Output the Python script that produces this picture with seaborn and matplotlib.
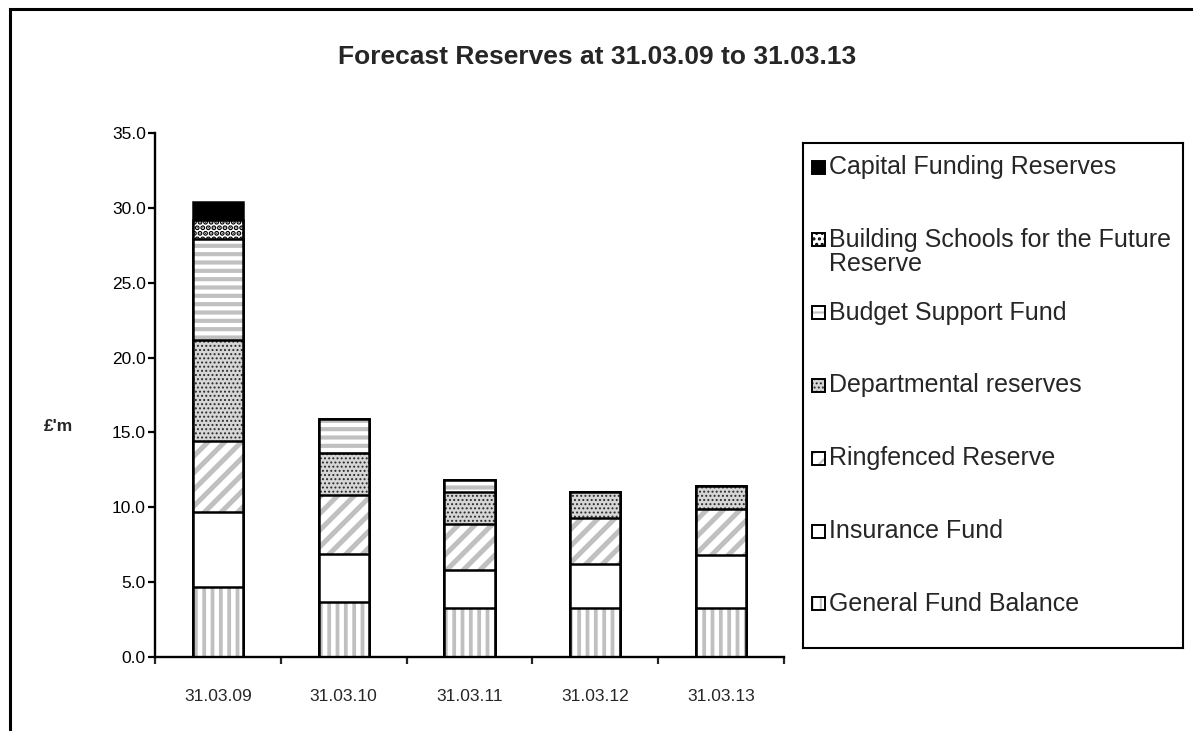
import numpy as np
import pandas as pd
import matplotlib
matplotlib.use("Agg")
import matplotlib.pyplot as plt
from matplotlib.patches import Rectangle
import seaborn as sns

# ---- data (£m) -------------------------------------------------------------
periods = ["31.03.09", "31.03.10", "31.03.11", "31.03.12", "31.03.13"]

general_fund = [4.7, 3.7, 3.3, 3.3, 3.3]
insurance_fund = [5.0, 3.2, 2.5, 2.9, 3.5]
ringfenced = [4.7, 3.9, 3.1, 3.1, 3.1]
departmental = [6.8, 2.8, 2.1, 1.7, 1.5]
budget_support = [6.7, 2.3, 0.8, 0.0, 0.0]
bsf_reserve = [1.3, 0.0, 0.0, 0.0, 0.0]
capital_funding = [1.2, 0.0, 0.0, 0.0, 0.0]

series_names = [
    "General Fund Balance",
    "Insurance Fund",
    "Ringfenced Reserve",
    "Departmental reserves",
    "Budget Support Fund",
    "Building Schools for the Future\nReserve",
    "Capital Funding Reserves",
]
series_values = [general_fund, insurance_fund, ringfenced, departmental,
                 budget_support, bsf_reserve, capital_funding]

y_ticks = [0, 5, 10, 15, 20, 25, 30, 35]

# fill styles, bottom segment first: (face, hatch, hatch colour, hatch width pt)
styles = [
    ("white", "||", "#c0c0c0", 2.7),
    ("white", None, "#c0c0c0", 1.0),
    ("white", "//", "#c0c0c0", 3.6),
    ("#d6d6d6", "....", "#2a2a2a", 0.9),
    ("white", "--", "#c0c0c0", 3.0),
    ("white", "...", "#000000", 2.6),
    ("black", None, "#000000", 1.0),
]

# ---- figure ---------------------------------------------------------------
sns.set_style("white")
plt.rcParams["font.family"] = ["Liberation Sans", "DejaVu Sans"]

W, H = 1193, 731
fig = plt.figure(figsize=(W / 100, H / 100), dpi=100)
fig.patch.set_facecolor("white")

ax = fig.add_axes([155 / W, 1 - 657 / H, 629 / W, 524 / H])

frame = pd.DataFrame({name: vals for name, vals in zip(series_names, series_values)},
                     index=periods)
cumulative = frame.cumsum(axis=1)


def style_patches(patches, face, hatch, hcolor, hlw, outline):
    for p in patches:
        if outline:
            p.set_facecolor("none")
            p.set_edgecolor("black")
            p.set_linewidth(1.8)
            p.set_hatch(None)
        else:
            p.set_facecolor(face)
            p.set_edgecolor(hcolor)
            p.set_linewidth(0)
            p.set_hatch(hatch)
            if hasattr(p, "set_hatch_linewidth"):
                p.set_hatch_linewidth(hlw)


# stacked columns: draw cumulative totals from the top segment downwards,
# each layer hiding the part that belongs to the segments below it
for i in reversed(range(len(series_names))):
    face, hatch, hcolor, hlw = styles[i]
    totals = cumulative.iloc[:, i].values
    for outline in (False, True):
        n0 = len(ax.patches)
        with plt.rc_context({"hatch.linewidth": hlw}):
            sns.barplot(x=periods, y=totals, order=periods, width=0.4,
                        errorbar=None, color="white", ax=ax)
        style_patches(ax.patches[n0:], face, hatch, hcolor, hlw, outline)

# ---- axes styling -----------------------------------------------------------
ax.set_xlim(-0.5, len(periods) - 0.5)
ax.set_ylim(0, 35)
ax.set_yticks(y_ticks)
ax.set_yticklabels([f"{v:.1f}" for v in y_ticks])
ax.set_xticks(range(len(periods)))
ax.set_xticklabels(periods)
ax.set_xticks(np.arange(-0.5, len(periods)), minor=True)
ax.tick_params(axis="y", direction="out", length=5, width=1.6, pad=1.5,
               labelsize=12.5, colors="black", left=True)
ax.tick_params(axis="x", which="major", length=0, pad=23, labelsize=12.5)
ax.tick_params(axis="x", which="minor", direction="out", length=5, width=1.6,
               bottom=True)
for side in ("top", "right"):
    ax.spines[side].set_visible(False)
for side in ("left", "bottom"):
    ax.spines[side].set_color("black")
    ax.spines[side].set_linewidth(1.7)
ax.set_xlabel("")
ax.set_ylabel("£'m", rotation=0, fontsize=12.5, fontweight="bold",
              va="center", ha="center")
ax.yaxis.set_label_coords(-0.154, 0.44)
ax.grid(False)

fig.text(597 / W, 1 - 57 / H, "Forecast Reserves at 31.03.09 to 31.03.13",
         ha="center", va="center", fontsize=19, fontweight="bold")

# ---- legend panel -----------------------------------------------------------
lax = fig.add_axes([803 / W, 1 - 648 / H, 380 / W, 505 / H])
lax.set_xlim(0, 380)
lax.set_ylim(505, 0)
lax.set_xticks([])
lax.set_yticks([])
for s in lax.spines.values():
    s.set_visible(True)
    s.set_color("black")
    s.set_linewidth(1.5)

slot_top, slot_step, line_step = 24, 72.8, 24
for k, i in enumerate(reversed(range(len(series_names)))):
    face, hatch, hcolor, hlw = styles[i]
    yc = slot_top + k * slot_step
    sw = Rectangle((9, yc - 6.5), 13, 13, facecolor=face, edgecolor=hcolor,
                   linewidth=0, hatch=hatch)
    if hasattr(sw, "set_hatch_linewidth"):
        sw.set_hatch_linewidth(min(hlw, 1.5))
    lax.add_patch(sw)
    lax.add_patch(Rectangle((9, yc - 6.5), 13, 13, facecolor="none",
                            edgecolor="black", linewidth=1.4))
    for j, line in enumerate(series_names[i].split("\n")):
        lax.text(26, yc + j * line_step, line, ha="left", va="center",
                 fontsize=18)

# outer chart frame
fig.add_artist(Rectangle((9.5 / W, -0.2), 1.5, 1 - 9 / H + 0.2,
                         transform=fig.transFigure, fill=False,
                         edgecolor="black", linewidth=2.2, clip_on=False))

fig.savefig("out.png", dpi=100)
